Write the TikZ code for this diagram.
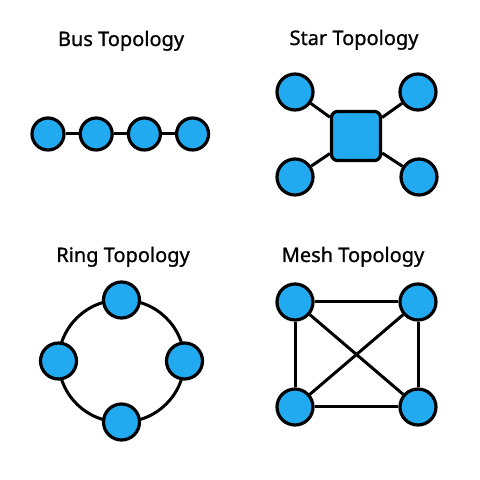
\documentclass[tikz,border=0pt]{standalone}
\usepackage{fontspec}
\setmainfont[FakeBold=0.9]{Noto Sans}
\usetikzlibrary{positioning,calc,backgrounds}

\definecolor{nodeblue}{RGB}{34,170,240}

\begin{document}
\begin{tikzpicture}[x=1pt,y=1pt,
	host/.style={circle,draw,line width=3.2pt,fill=nodeblue,minimum size=36pt,inner sep=0pt},
	small/.style={host,minimum size=32pt},
	hub/.style={rectangle,rounded corners=6pt,draw,line width=3.2pt,fill=nodeblue,minimum size=49pt,inner sep=0pt},
	link/.style={line width=3pt},
	title/.style={anchor=base,font=\fontsize{20}{24}\selectfont\bfseries}]

\useasboundingbox (0,0) rectangle (480,480);

% bus
\node [title] (bustitle) at (121,434) {Bus Topology};
\node [small] (b1) at (48,346) {};
\node [small] (b2) [right=13pt of b1] {};
\node [small] (b3) [right=13pt of b2] {};
\node [small] (b4) [right=13pt of b3] {};

\path [link]
	(b1) edge (b2)
	(b2) edge (b3)
	(b3) edge (b4)
;

% star
\node [title] (startitle) at (354,435) {Star Topology};
\node [hub] (h) at (356,344) {};
\node [host] (s1) at (295,388) {};
\node [host] (s2) at (418,388) {};
\node [host] (s3) at (295,303) {};
\node [host] (s4) at (419,303) {};

\path [link]
	(h)
		edge (s1)
		edge (s2)
		edge (s3)
		edge (s4)
;

% ring
\node [title] (ringtitle) at (123,218) {Ring Topology};
\coordinate (rc) at (121.5,119);
\node [host] (r1) at ($(rc)+(0,61)$) {};
\node [host] (r2) at ($(rc)+(63,0)$) {};
\node [host] (r3) at ($(rc)+(0,-61)$) {};
\node [host] (r4) at ($(rc)+(-63,0)$) {};

\begin{scope}[on background layer]
\path [link]
	(r1.center) edge [bend left=45] (r2.center)
	(r2.center) edge [bend left=45] (r3.center)
	(r3.center) edge [bend left=45] (r4.center)
	(r4.center) edge [bend left=45] (r1.center)
;
\end{scope}

% mesh
\node [title] (meshtitle) at (353,218) {Mesh Topology};
\node [host] (m1) at (295,178) {};
\node [host] (m2) at (418,178) {};
\node [host] (m3) at (295,73) {};
\node [host] (m4) at (418,73) {};

\path [link]
	(m1)
		edge (m2)
		edge (m3)
		edge (m4)
	(m2)
		edge (m3)
		edge (m4)
	(m3)
		edge (m4)
;

\end{tikzpicture}
\end{document}
